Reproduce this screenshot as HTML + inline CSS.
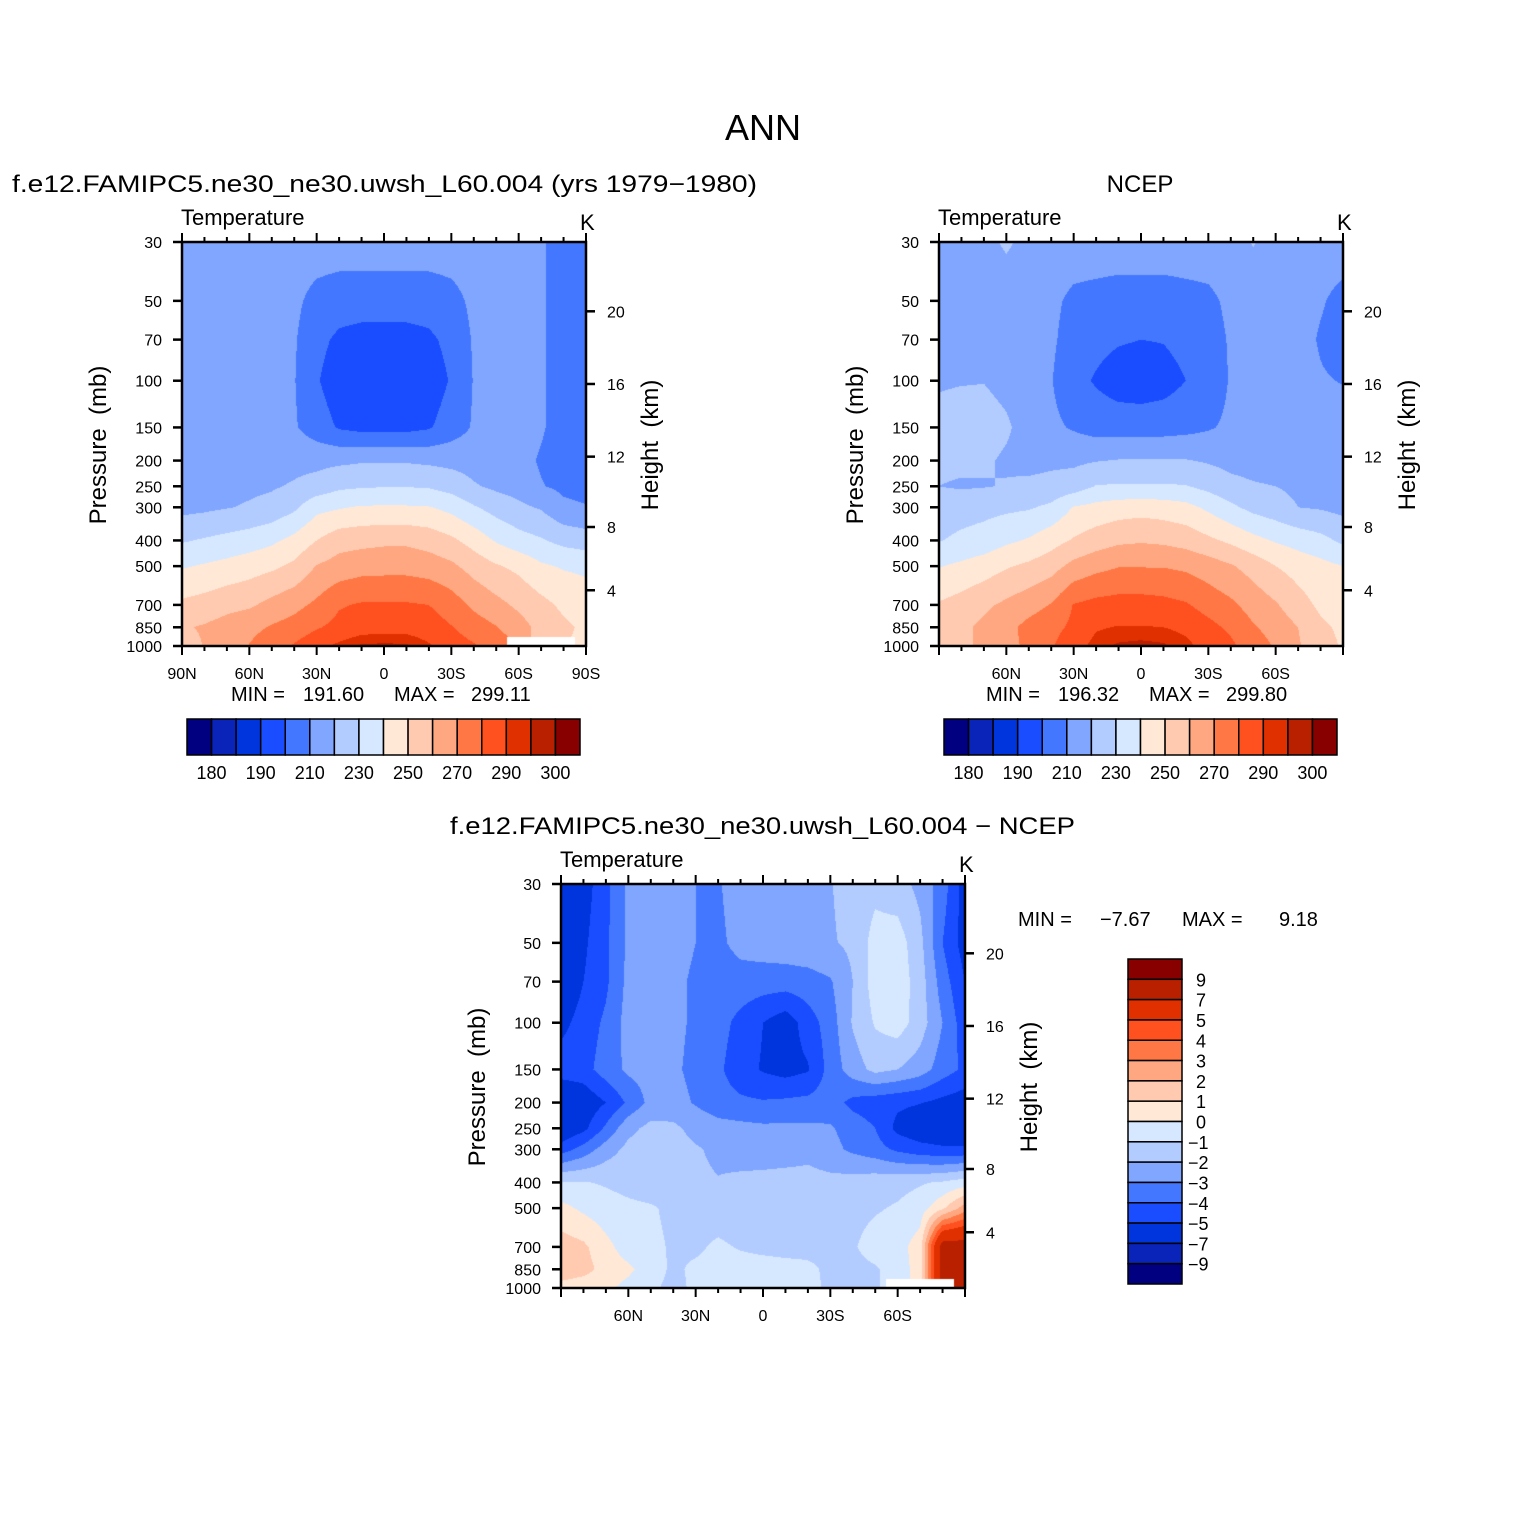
<!DOCTYPE html>
<html><head><meta charset="utf-8"><title>ANN Temperature</title>
<style>
html,body{margin:0;padding:0;background:#fff;}
#wrap{position:relative;width:1525px;height:1525px;overflow:hidden;background:#fff;}
canvas{position:absolute;}
svg{position:absolute;left:0;top:0;}
text{font-family:"Liberation Sans",sans-serif;fill:#000;white-space:pre;}
</style></head>
<body>
<div id="wrap">
<canvas id="c1" width="404" height="404" style="left:182px;top:242px"></canvas>
<canvas id="c2" width="404" height="404" style="left:939px;top:242px"></canvas>
<canvas id="c3" width="404" height="404" style="left:561px;top:884px"></canvas>
<svg id="ov" width="1525" height="1525" xmlns="http://www.w3.org/2000/svg" xml:space="preserve">
<text x="763" y="140" font-size="36" text-anchor="middle">ANN</text>
<text x="12" y="192" font-size="24" textLength="745" lengthAdjust="spacingAndGlyphs">f.e12.FAMIPC5.ne30_ne30.uwsh_L60.004 (yrs 1979−1980)</text>
<text x="1140" y="192" font-size="24" text-anchor="middle">NCEP</text>
<text x="450" y="834" font-size="24" textLength="625" lengthAdjust="spacingAndGlyphs">f.e12.FAMIPC5.ne30_ne30.uwsh_L60.004 − NCEP</text>
<g font-size="20">
<text x="231" y="701">MIN =</text><text x="303" y="701">191.60</text><text x="394" y="701">MAX =</text><text x="471" y="701">299.11</text>
</g>
<g font-size="20">
<text x="986" y="701">MIN =</text><text x="1058" y="701">196.32</text><text x="1149" y="701">MAX =</text><text x="1226" y="701">299.80</text>
</g>
<g font-size="20">
<text x="1018" y="926">MIN =</text><text x="1100" y="926">−7.67</text><text x="1182" y="926">MAX =</text><text x="1279" y="926">9.18</text>
</g>
</svg>
</div>
<script>
// ---- data ----
const LEVS = [30,50,70,100,150,200,250,300,400,500,700,850,1000];
const LATS = [90,80,70,60,50,40,30,20,10,0,-10,-20,-30,-40,-50,-60,-70,-80,-90];
const tempLevels = [180,185,190,200,210,220,230,240,250,260,270,280,290,295,300];
const diffLevels = [-9,-7,-5,-4,-3,-2,-1,0,1,2,3,4,5,7,9];
const tempLabels = ["180","190","210","230","250","270","290","300"];
const diffLabels = ["9","7","5","4","3","2","1","0","−1","−2","−3","−4","−5","−7","−9"];
const pressureTicks = ["30","50","70","100","150","200","250","300","400","500","700","850","1000"];
const heightTicks = [4,8,12,16,20];
const latTicksFull = ["90N","60N","30N","0","30S","60S","90S"];
const latTickValues = [90,60,30,0,-30,-60,-90];
const COLORS = ["#000080","#0a23b8","#0035dd","#1a4dff","#4477ff","#80a6ff","#b3ccff","#d6e8ff",
                "#ffe8d6","#ffcab0","#ffa780","#ff7744","#ff5020","#e03000","#b82000","#880000"];

const modelT = [
 [215,215,215,215,215,215,215,215,215,215,215,215,215,215,215,214,211,206,205],
 [216,216,216,216,215,212,207,205,205,205,205,205,207,212,215,215,211,206,205],
 [216,216,216,216,215,211,203,198,196,196,196,198,203,211,215,215,211,206,205],
 [217,217,217,217,216,210.5,201,194,192,192,192,194,201,210.5,216,215,211,206,205],
 [218,218,218,217,216,211,205,199,197,197,197,199,205,211,216,215,211,206,205],
 [217,217,217,217,217,217,217,218,219,219,219,218,217,216,215,213,209,206,205],
 [215,216,217,218,219,221,224,228,229,229.5,229.5,229,226,221,218,216,210.5,208,207],
 [217,218,219.5,221,223,228,237,239,241,241,241,240.5,237,231,226,222,219,212,210.5],
 [229,231,233,235,238,243,250,256,257,258,258,256,252,246,239,234,231,227,225],
 [239,241,243,245.5,248,252,260.5,264,266,266.5,266.5,265,262,256,251,247.5,241.5,239,238],
 [252,254,257,258.5,263,267,272,279,281,281,281,280,275,268,263,258,253,248,245],
 [259,261,264,267,271,274,279,283,286,286.5,286.5,285,280.5,275,270.5,264,257,252,248],
 [255,260.5,264,270.5,276,281,287,292,296,296.5,296,291,285,281,276,null,null,null,248]
];
const ncepT = [
 [215,216,218,221,218,216,215,215,215,215,215,215,215,216,220.5,216,215,215,215],
 [215,215,215,216,215,212,208,207,206,206,206,207,208,212,215,215,214,211,207],
 [216,216,216,216,215,211.5,206,203,201,200,200.5,203,206,211,215,215,214,209,205],
 [219,219.5,219.8,218,216,210.5,203,199,195,194,196,200,203,211,215,215,214,211,209.5],
 [223,224,223,221,217,212,209,206,206,206,206,207,209,212,215,215,215,215,215],
 [222,222,221,219,217,218,218,219.5,220.5,220.5,220.5,220.5,219,217,216,215,215,215,215],
 [220,219,219.5,220.5,222,223,225,230.5,231,231,231,230.5,227,223,221,220,218,217,216],
 [225,226,227,228,229,232,240.5,243,245,246,245,243,238,232,227,224,220,219,217],
 [229.5,232,234,238,241,246,251,255,258,259,258,256,252,248,243,239,236,233,228],
 [239.5,242,245,249,252,256,263,267,269.5,269.5,269.5,268,265,261,256,250,246,243,240],
 [251,254,258,262,266,270.5,280.5,283,284,284,283,281,276,272,266,261,254,248,244],
 [254,258,262,267,273,277,282,289,290.5,290.5,290,288,283,278,271,266,260,252,248],
 [249,257,263,267,272,279,286,293,296,297,296,292,287,282,275,269,261,254,249]
];
const diffT = [
 [-6.5,-5.5,-4.3,-2.8,-2.5,-2.5,-3,-3.1,-2.5,-2.5,-2.3,-2.2,-2.05,-1.6,-1.3,-1.6,-2.3,-3.5,-5.5],
 [-6,-5.2,-4.2,-2.8,-2.5,-2.5,-3,-3.2,-2.7,-2.5,-2.4,-2.3,-2.1,-1.8,-0.6,-0.5,-1.7,-4,-5.5],
 [-6,-5,-4.2,-2.7,-2.5,-2.7,-3.2,-3.5,-3.4,-3.5,-3.5,-3.4,-3.1,-2,-0.5,-0.4,-1.5,-3.5,-5],
 [-5.3,-4.6,-3.8,-2.6,-2.5,-2.7,-3.2,-3.6,-4.3,-5,-5.6,-4.5,-3.5,-1.9,-0.9,-0.5,-1.5,-3,-4.6],
 [-4.5,-4.4,-3.5,-2.8,-2.6,-2.8,-3.3,-3.8,-4.6,-5.1,-5.4,-5.1,-3.6,-2.5,-1.7,-2,-2.5,-3.5,-4.2],
 [-6.2,-5.8,-5.0,-3.8,-2.7,-2.6,-3.1,-3.6,-3.8,-3.9,-3.8,-3.7,-3.5,-4.3,-4.6,-4.8,-4.95,-5.3,-5.6],
 [-6,-5.3,-3.8,-2.3,-1.7,-1.8,-2.3,-2.6,-2.7,-2.8,-2.8,-2.8,-2.9,-3.4,-4,-5.3,-5.8,-6,-6],
 [-4.5,-3.6,-2.5,-1.7,-1.5,-1.6,-1.9,-2.2,-2.4,-2.5,-2.5,-2.3,-2.7,-3.2,-3.6,-4.2,-4.6,-4.8,-4.8],
 [-0.9,-0.95,-1.1,-1.3,-1.5,-1.6,-1.8,-1.95,-1.8,-1.7,-1.6,-1.65,-1.7,-1.6,-1.4,-1.3,-1.1,-0.9,-0.5],
 [0.3,-0.2,-0.6,-0.8,-0.9,-1.2,-1.5,-1.6,-1.7,-1.7,-1.6,-1.5,-1.4,-1.3,-1.1,-0.9,-0.5,0.8,2.5],
 [1.5,1.2,0.3,-0.5,-0.8,-1.1,-1.2,-0.8,-1.1,-1.3,-1.4,-1.3,-1.2,-1.1,-0.6,-0.4,0.5,8,8],
 [1.8,1.4,0.6,0.2,-0.5,-1.2,-0.8,-0.6,-0.5,-0.5,-0.6,-0.8,-1.2,-1.3,-1.1,-0.6,0.5,8,8],
 [0.5,0.3,0.2,-0.3,-0.8,-1.3,-0.8,-0.6,-0.7,-0.8,-0.8,-0.7,-1.2,-1.2,-1.0,null,null,null,8]
];

// ---- scales ----
const SIZE = 404;
const LNR = Math.log(1000/30);
function yOfP(p){ return SIZE*Math.log(p/30)/LNR; }
function pOfY(y){ return 30*Math.exp(y/SIZE*LNR); }
function xOfLat(lat){ return SIZE*(90-lat)/180; }
function pOfZ(zkm){
  const z = zkm*1000;
  if (z <= 11000) return 1013.25*Math.pow(1-2.25577e-5*z,5.25588);
  return 226.32*Math.exp(-(z-11000)/6341.6);
}
function levelIndex(v, levels){ let k=0; while(k<levels.length && v>=levels[k]) k++; return k; }
function hex(c){ return [parseInt(c.slice(1,3),16),parseInt(c.slice(3,5),16),parseInt(c.slice(5,7),16)]; }
const RGB = COLORS.map(hex);

function drawField(id, grid, levels){
  const cv = document.getElementById(id), ctx = cv.getContext('2d');
  const img = ctx.createImageData(SIZE,SIZE), d = img.data;
  const nLat = LATS.length;
  for (let py=0; py<SIZE; py++){
    const p = pOfY(py+0.5);
    let k=0; while(k<LEVS.length-2 && p>LEVS[k+1]) k++;
    let fy = Math.log(p/LEVS[k])/Math.log(LEVS[k+1]/LEVS[k]);
    fy = Math.max(0,Math.min(1,fy));
    for (let px=0; px<SIZE; px++){
      const lat = 90 - (px+0.5)/SIZE*180;
      let fi = (90-lat)/180*(nLat-1);
      let i = Math.min(nLat-2, Math.floor(fi)); const fx = fi - i;
      const c = [[grid[k][i],grid[k][i+1]],[grid[k+1][i],grid[k+1][i+1]]];
      const near = c[fy<0.5?0:1][fx<0.5?0:1];
      const o = (py*SIZE+px)*4;
      if (near===null){ d[o]=255; d[o+1]=255; d[o+2]=255; d[o+3]=255; continue; }
      const w = [[(1-fy)*(1-fx),(1-fy)*fx],[fy*(1-fx),fy*fx]];
      let s=0, ws=0;
      for (let a=0;a<2;a++) for (let b=0;b<2;b++) if (c[a][b]!==null){ s+=c[a][b]*w[a][b]; ws+=w[a][b]; }
      const v = s/ws;
      const col = RGB[levelIndex(v, levels)];
      d[o]=col[0]; d[o+1]=col[1]; d[o+2]=col[2]; d[o+3]=255;
    }
  }
  ctx.putImageData(img,0,0);
}
drawField('c1', modelT, tempLevels);
drawField('c2', ncepT, tempLevels);
drawField('c3', diffT, diffLevels);

// ---- axes ----
const NS = "http://www.w3.org/2000/svg";
const svg = document.getElementById('ov');
function mk(tag, attrs, txt){
  const e = document.createElementNS(NS, tag);
  for (const k in attrs) e.setAttribute(k, attrs[k]);
  if (txt!==undefined) e.textContent = txt;
  svg.appendChild(e);
  return e;
}
function line(x1,y1,x2,y2,w){ return mk('line',{x1:x1,y1:y1,x2:x2,y2:y2,stroke:'#000','stroke-width':w}); }

function axes(ox, oy, showEnds, prefix){
  const box = mk('rect',{x:ox,y:oy,width:SIZE,height:SIZE,fill:'none',stroke:'#000','stroke-width':2.5});
  
  
  for (const lat of LATS){
    const x = ox + xOfLat(lat);
    const major = (lat % 30 === 0);
    const len = major ? 9 : 5;
    const t1 = line(x, oy, x, oy-len, 2);
    
    
    const t2 = line(x, oy+SIZE, x, oy+SIZE+len, 2);
    
    
  }
  latTickValues.forEach((lat, j) => {
    if (!showEnds && Math.abs(lat)===90) return;
    const t = mk('text',{x:ox+xOfLat(lat), y:oy+SIZE+33, 'font-size':16, 'text-anchor':'middle'}, latTicksFull[j]);
    
    
  });
  LEVS.forEach((p, j) => {
    const y = oy + yOfP(p);
    const tk = line(ox, y, ox-9, y, 2.5);
    
    
    const t = mk('text',{x:ox-20, y:y+6, 'font-size':16, 'text-anchor':'end'}, pressureTicks[j]);
    
    
  });
  heightTicks.forEach(z => {
    const y = oy + yOfP(pOfZ(z));
    const tk = line(ox+SIZE, y, ox+SIZE+9, y, 2.5);
    
    
    const t = mk('text',{x:ox+SIZE+21, y:y+6, 'font-size':16}, String(z));
    
    
  });
  const yl = mk('text',{x:0,y:0,'font-size':24,'text-anchor':'middle',transform:'translate('+(ox-76)+','+(oy+203)+') rotate(-90)'}, 'Pressure  (mb)');
  
  
  const yr = mk('text',{x:0,y:0,'font-size':24,'text-anchor':'middle',transform:'translate('+(ox+476)+','+(oy+203)+') rotate(-90)'}, 'Height  (km)');
  
  
  const vt = mk('text',{x:ox-1, y:oy-17, 'font-size':22}, 'Temperature');
  
  
  const ut = mk('text',{x:ox+SIZE-6, y:oy-12, 'font-size':22}, 'K');
  
  
}
axes(182, 242, true, 'model');
axes(939, 242, false, 'ncep');
axes(561, 884, false, 'difference');

// ---- colorbars ----
function hColorbar(x0, y0, w, h, prefix){
  const n = COLORS.length, bw = w/n;
  for (let i=0;i<n;i++){
    const r = mk('rect',{x:x0+i*bw, y:y0, width:bw, height:h, fill:COLORS[i], stroke:'#000','stroke-width':1.5});
    
    
  }
  tempLabels.forEach((lab, j) => {
    const t = mk('text',{x:x0+(2*j+1)*bw, y:y0+h+24, 'font-size':18, 'text-anchor':'middle'}, lab);
    
    
  });
}
hColorbar(187, 719, 393, 36, 'model');
hColorbar(944, 719, 393, 36, 'ncep');

(function(){
  const x0=1128, y0=959, w=54, h=325, n=COLORS.length, bh=h/n;
  for (let i=0;i<n;i++){
    const r = mk('rect',{x:x0, y:y0+i*bh, width:w, height:bh, fill:COLORS[n-1-i], stroke:'#000','stroke-width':1.5});
    
    
  }
  diffLabels.forEach((lab, j) => {
    const t = mk('text',{x:x0+w+(lab.length>1?6:14), y:y0+(j+1)*bh+7, 'font-size':18}, lab);
    
    
  });
})();
</script>
</body></html>
